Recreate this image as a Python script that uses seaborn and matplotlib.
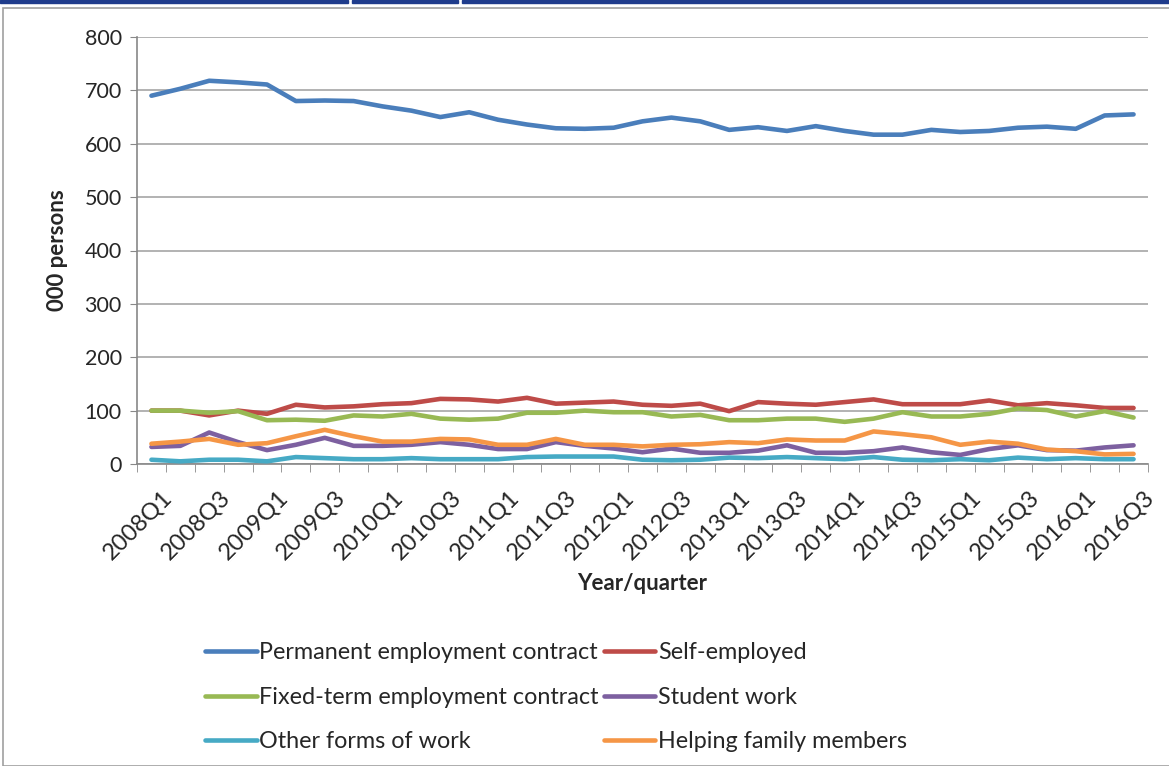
import numpy as np
import pandas as pd
import matplotlib
matplotlib.use('Agg')
import matplotlib.pyplot as plt
from matplotlib.lines import Line2D
from matplotlib.patches import Rectangle
from matplotlib.transforms import ScaledTranslation
import seaborn as sns

quarters = [f"{y}Q{q}" for y in range(2008, 2017) for q in range(1, 5)][:35]

permanent = [690, 703, 718, 715, 711, 680, 681, 680, 670, 662, 650, 659, 645, 636, 629, 628, 630, 642,
             649, 642, 626, 631, 624, 633, 624, 617, 617, 626, 622, 624, 630, 632, 628, 653, 655]
self_employed = [100, 100, 91, 100, 94, 111, 106, 108, 112, 114, 122, 121, 117, 124, 113, 115, 117, 111,
                 109, 113, 99, 116, 113, 111, 116, 121, 112, 112, 112, 119, 110, 114, 110, 105, 105]
fixed_term = [100, 100, 96, 99, 82, 83, 81, 91, 89, 94, 85, 83, 85, 96, 96, 100, 97, 97,
              89, 92, 82, 82, 85, 85, 79, 85, 97, 89, 89, 94, 104, 101, 89, 99, 87]
student = [32, 34, 59, 41, 26, 36, 49, 34, 34, 36, 41, 36, 28, 28, 41, 34, 29, 22,
           29, 21, 21, 25, 35, 21, 21, 24, 31, 22, 17, 28, 35, 26, 25, 31, 35]
other = [8, 5, 8, 8, 5, 13, 11, 9, 9, 11, 9, 9, 9, 13, 14, 14, 14, 8,
         7, 8, 12, 11, 13, 11, 9, 13, 8, 7, 9, 7, 12, 9, 11, 9, 9]
helping = [38, 42, 47, 36, 39, 52, 64, 52, 42, 42, 47, 46, 36, 36, 47, 36, 36, 33,
           36, 37, 41, 39, 46, 44, 44, 61, 56, 50, 36, 42, 38, 27, 24, 18, 19]

series_names = ['Permanent employment contract', 'Self-employed', 'Fixed-term employment contract',
                'Student work', 'Other forms of work', 'Helping family members']
series_values = [permanent, self_employed, fixed_term, student, other, helping]
colors = ['#4A7EBB', '#BE4B48', '#98B954', '#7D60A0', '#46AAC5', '#F59646']

rows = []
for name, vals in zip(series_names, series_values):
    for i, v in enumerate(vals):
        rows.append({'idx': i, 'value': v, 'series': name})
df = pd.DataFrame(rows)

sns.set_style('white')
plt.rcParams['font.family'] = ['Lato', 'DejaVu Sans']

fig = plt.figure(figsize=(11.69, 7.66), dpi=100)
ax = fig.add_axes([137 / 1169, 1 - 464 / 766, (1148 - 137) / 1169, (464 - 37) / 766])

sns.lineplot(data=df, x='idx', y='value', hue='series', hue_order=series_names,
             palette=colors, linewidth=3.3, ax=ax, legend=False, zorder=3)

ax.set_xlim(-0.5, len(quarters) - 0.5)
ax.set_ylim(0, 800)
ax.set_yticks(range(0, 801, 100))
ax.yaxis.grid(True, color='#A6A6A6', linewidth=1.2)
ax.tick_params(axis='y', labelsize=15.5, length=5, color='#888888', direction='out', left=True, pad=6)

ax.set_xticks(range(0, len(quarters), 2))
ax.set_xticklabels(quarters[::2], rotation=45, ha='right', rotation_mode='anchor', fontsize=17)
ax.set_xticks(np.arange(-0.5, len(quarters), 1), minor=True)
ax.tick_params(axis='x', which='major', length=0, pad=16)
ax.tick_params(axis='x', which='minor', length=6, color='#888888', direction='out', bottom=True)
shift = ScaledTranslation(10 / 100, 0, fig.dpi_scale_trans)
for lab in ax.get_xticklabels():
    lab.set_transform(lab.get_transform() + shift)

for s in ['top', 'right']:
    ax.spines[s].set_visible(False)
for s in ['left', 'bottom']:
    ax.spines[s].set_color('#888888')
    ax.spines[s].set_linewidth(1.2)

ax.set_xlabel('Year/quarter', fontsize=16, fontweight='bold', labelpad=7)
ax.set_ylabel('000 persons', fontsize=16, fontweight='bold', labelpad=12)

order = [0, 2, 4, 1, 3, 5]
handles = [Line2D([], [], color=colors[i], linewidth=3.3) for i in order]
labels = [series_names[i] for i in order]
fig.legend(handles, labels, loc='upper left', bbox_to_anchor=(196 / 1169, 1 - 633 / 766),
           ncol=2, frameon=False, fontsize=16.8, handlelength=2.2, handletextpad=0.12,
           columnspacing=0.2, labelspacing=1.0, borderaxespad=0)

# screenshot frame
fig.patches.append(Rectangle((3 / 1169, 0), 1.1, 1 - 8 / 766, transform=fig.transFigure,
                             fill=False, edgecolor='#A0A0A0', linewidth=1.2))
for x0, x1 in [(0, 348), (352, 458), (462, 1169)]:
    fig.patches.append(Rectangle((x0 / 1169, 1 - 3 / 766), (x1 - x0) / 1169, 3 / 766,
                                 transform=fig.transFigure, color='#1F3C8C'))

plt.savefig('out.png', dpi=100)
